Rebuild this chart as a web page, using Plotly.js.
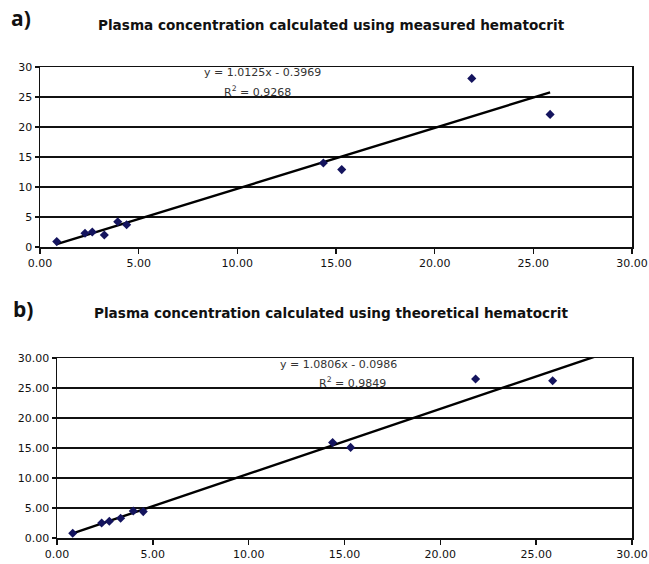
<!DOCTYPE html>
<html>
<head>
<meta charset="utf-8">
<script src="https://cdn.plot.ly/plotly-3.0.1.min.js"></script>
<style>html,body{margin:0;padding:0;background:#fff;}#chart{width:649px;height:564px;}</style>
</head>
<body>
<div id="chart"></div>
<script>
// Panel a: measured hematocrit
const measuredX = [0.85, 2.28, 2.65, 3.26, 3.94, 4.39, 14.36, 15.29, 21.88, 25.85];
const measuredY = [0.9, 2.3, 2.5, 2.0, 4.2, 3.7, 14.0, 12.9, 28.1, 22.1];
const slopeA = 1.0125, interceptA = -0.3969, r2A = "0.9268";

// Panel b: theoretical hematocrit
const theoreticalX = [0.82, 2.33, 2.73, 3.32, 3.98, 4.5, 14.38, 15.32, 21.84, 25.86];
const theoreticalY = [0.8, 2.5, 2.8, 3.3, 4.5, 4.4, 15.9, 15.1, 26.5, 26.2];
const slopeB = 1.0806, interceptB = -0.0986, r2B = "0.9849";
const trendEndB = 30; // trendline extended (forecast) and clipped by axis

const titleA = "Plasma concentration calculated using measured hematocrit";
const titleB = "Plasma concentration calculated using theoretical hematocrit";

const W = 649, H = 564;
const fx = p => p / W;
const fy = p => 1 - p / H;

function trend(xs, m, b, xEnd) {
  const x0 = Math.min(...xs), x1 = xEnd !== undefined ? xEnd : Math.max(...xs);
  return {x: [x0, x1], y: [m * x0 + b, m * x1 + b]};
}
const tA = trend(measuredX, slopeA, interceptA);
const tB = trend(theoreticalX, slopeB, interceptB, trendEndB);

const markerStyle = {symbol: 'diamond', size: 7, color: '#14145e'};
const data = [
  {x: tA.x, y: tA.y, mode: 'lines', line: {color: '#000', width: 2.4}, xaxis: 'x', yaxis: 'y', hoverinfo: 'skip'},
  {x: measuredX, y: measuredY, mode: 'markers', marker: markerStyle, xaxis: 'x', yaxis: 'y'},
  {x: tB.x, y: tB.y, mode: 'lines', line: {color: '#000', width: 2.4}, xaxis: 'x2', yaxis: 'y2', hoverinfo: 'skip'},
  {x: theoreticalX, y: theoreticalY, mode: 'markers', marker: markerStyle, xaxis: 'x2', yaxis: 'y2'}
];

const tickFont = {family: 'DejaVu Sans', size: 11, color: '#111'};
function xax(dom, anchor) {
  return {domain: dom, anchor: anchor, range: [0, 30], dtick: 5, tick0: 0, tickformat: '.2f',
    showgrid: false, zeroline: false, showline: true, mirror: true, linecolor: '#111', linewidth: 1.5,
    ticks: 'outside', ticklen: 5, tickcolor: '#111', tickwidth: 1.5, tickfont: tickFont, fixedrange: true};
}
function yax(dom, anchor, fmt) {
  return {domain: dom, anchor: anchor, range: [0, 30], dtick: 5, tick0: 0, tickformat: fmt,
    showgrid: true, gridcolor: '#111', gridwidth: 1.5, zeroline: false, showline: true, mirror: true,
    linecolor: '#111', linewidth: 1.5, ticks: 'outside', ticklen: 4, tickcolor: '#111', tickwidth: 1.5,
    tickfont: tickFont, fixedrange: true};
}

const annFont = {family: 'DejaVu Sans', size: 11, color: '#333'};
const titleFont = {family: 'DejaVu Sans', size: 13.6, color: '#111', weight: 'bold'};
const labelFont = {family: 'Open Sans', size: 21, color: '#111', weight: 'bold'};
const annotations = [
  {text: 'a)', x: fx(9), y: fy(18), xanchor: 'left', yanchor: 'middle', font: labelFont},
  {text: '<b>' + titleA + '</b>', x: fx(331), y: fy(25), xanchor: 'center', yanchor: 'middle', font: titleFont},
  {text: 'y = ' + slopeA + 'x - ' + Math.abs(interceptA), x: fx(262), y: fy(73), xanchor: 'center', yanchor: 'middle', font: annFont},
  {text: 'R<sup>2</sup> = ' + r2A, x: fx(257), y: fy(91), xanchor: 'center', yanchor: 'middle', font: annFont},
  {text: 'b)', x: fx(11), y: fy(309), xanchor: 'left', yanchor: 'middle', font: labelFont},
  {text: '<b>' + titleB + '</b>', x: fx(331), y: fy(313), xanchor: 'center', yanchor: 'middle', font: titleFont},
  {text: 'y = ' + slopeB + 'x - ' + Math.abs(interceptB), x: fx(338), y: fy(364), xanchor: 'center', yanchor: 'middle', font: annFont},
  {text: 'R<sup>2</sup> = ' + r2B, x: fx(352), y: fy(382), xanchor: 'center', yanchor: 'middle', font: annFont}
].map(a => Object.assign({xref: 'paper', yref: 'paper', showarrow: false}, a));

const layout = {
  width: W, height: H, margin: {l: 0, r: 0, t: 0, b: 0},
  paper_bgcolor: '#fff', plot_bgcolor: '#fff', showlegend: false,
  xaxis: xax([fx(40), fx(632)], 'y'),
  yaxis: yax([fy(247), fy(67)], 'x', 'd'),
  xaxis2: xax([fx(57), fx(632)], 'y2'),
  yaxis2: yax([fy(538), fy(358)], 'x2', '.2f'),
  annotations: annotations
};

Plotly.newPlot('chart', data, layout, {staticPlot: true, displayModeBar: false});
</script>
</body>
</html>
